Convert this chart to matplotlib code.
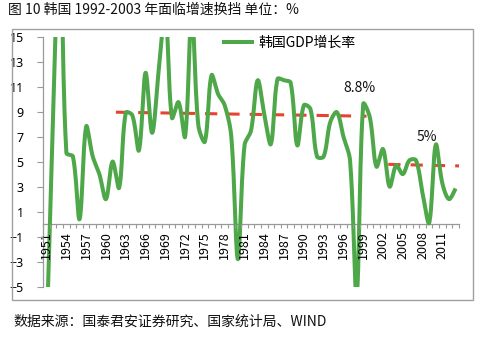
import matplotlib
matplotlib.use("Agg")
import matplotlib.pyplot as plt
import numpy as np
from matplotlib.patches import Rectangle

plt.rcParams['font.family'] = ['Noto Sans CJK SC', 'DejaVu Sans']

# 韩国 GDP 增长率 (%), 读自原图
years = list(range(1951, 2014))
gdp = [-9, 9, 23, 5.7, 5.4, 0.4, 7.8, 5.4, 4.0, 2.0,
       5.0, 2.9, 8.9, 8.7, 5.9, 12.1, 7.3, 12.3, 17, 8.5,
       9.75, 7.0, 17, 7.9, 6.6, 11.9, 10.4, 9.5, 7.0, -2.8,
       6.3, 7.5, 11.5, 8.8, 6.4, 11.6, 11.5, 11.3, 6.3, 9.5,
       9.2, 5.4, 5.4, 8.15, 8.95, 7.0, 5.1, -5.7, 9.6, 8.55,
       4.6, 6.0, 3.0, 4.7, 4.0, 5.1, 5.1, 2.45, 0.1, 6.35,
       3.25, 2.0, 2.85]

# 两段平均增速 (红色虚线)
trend1_x = [1961.5, 1999.5]
trend1_y = [8.95, 8.63]
trend2_x = [2002.8, 2013.9]
trend2_y = [4.78, 4.65]

labels = ['8.8%', '5%']
label_x = [1998.5, 2008.7]
label_y = [10.9, 7.0]


def smooth(xs, ys, n=24, yscale=1.9):
    # Excel 风格的平滑线 (按弦长分配切线的 Bezier)
    p = np.column_stack([xs, np.asarray(ys) * yscale]).astype(float)
    m = len(p)
    tang = np.zeros_like(p)
    for i in range(m):
        a = p[max(i - 1, 0)]
        b = p[min(i + 1, m - 1)]
        tang[i] = b - a
    d = np.linalg.norm(np.diff(p, axis=0), axis=1)
    out = []
    t = np.linspace(0, 1, n)[:, None]
    for i in range(m - 1):
        dp = d[i - 1] if i > 0 else d[i]
        dn = d[i + 1] if i + 1 < m - 1 else d[i]
        c1 = p[i] + tang[i] * d[i] / (dp + d[i]) / 3
        c2 = p[i + 1] - tang[i + 1] * d[i] / (d[i] + dn) / 3
        seg = ((1 - t) ** 3) * p[i] + 3 * ((1 - t) ** 2) * t * c1 + 3 * (1 - t) * t ** 2 * c2 + t ** 3 * p[i + 1]
        out.append(seg if i == 0 else seg[1:])
    out = np.vstack(out)
    return out[:, 0], out[:, 1] / yscale


fig = plt.figure(figsize=(4.81, 3.46), dpi=100)
ax = fig.add_axes([0.090, 0.1714, 0.864, 0.7231])

green = '#4EA84A'
red = '#E8432E'

sx, sy = smooth(years, gdp)
ax.plot(sx, sy, color=green, lw=2.9, label='韩国GDP增长率', solid_capstyle='butt', zorder=2)
ax.plot(trend1_x, trend1_y, color=red, lw=2.2, linestyle=(0, (4, 3.3)), zorder=1.5)
ax.plot(trend2_x, trend2_y, color=red, lw=2.2, linestyle=(0, (4, 3.3)), zorder=1.5)

for s, x, y in zip(labels, label_x, label_y):
    ax.text(x, y, s, ha='center', va='center', fontsize=10, color='#111111')

ax.set_xlim(1950.5, 2013.5)
ax.set_ylim(-5, 15)

ax.set_yticks(range(-5, 16, 2))
ax.tick_params(axis='y', length=4, width=0.8, color='#999999', pad=10, labelsize=9)

ax.set_xticks(years[::3])
ax.set_xticklabels([str(y) for y in years[::3]])
ax.set_xticks(np.arange(1950.5, 2014, 1), minor=True)
ax.tick_params(axis='x', which='major', length=0, pad=5, labelsize=9, labelrotation=90)
ax.tick_params(axis='x', which='minor', length=3, width=0.8, color='#999999')
for lab in ax.get_xticklabels() + ax.get_yticklabels():
    lab.set_family(['Noto Sans', 'DejaVu Sans'])
ax.xaxis.set_zorder(3)
ax.yaxis.set_zorder(3)

ax.spines['bottom'].set_position(('data', 0))
for side in ['top', 'right']:
    ax.spines[side].set_visible(False)
for side in ['left', 'bottom']:
    ax.spines[side].set_color('#999999')
    ax.spines[side].set_linewidth(0.9)
    ax.spines[side].set_zorder(1)

leg = ax.legend(loc='center left', bbox_to_anchor=(0.4615, 0.8766), bbox_transform=fig.transFigure,
                frameon=False, fontsize=10, handlelength=2.3, handletextpad=0.35,
                borderpad=0, borderaxespad=0)

fig.patches.append(Rectangle((12 / 481, 46 / 346), 461 / 481, 271 / 346, transform=fig.transFigure,
                             fill=False, edgecolor='#A0A0A0', lw=1.0))

fig.text(8 / 481, 1 - 10 / 346, '图 10 韩国 1992-2003 年面临增速换挡 单位：%',
         fontsize=10, va='center', ha='left', color='#111111')
fig.text(13 / 481, 1 - 322 / 346, '数据来源：国泰君安证券研究、国家统计局、WIND',
         fontsize=10, va='center', ha='left', color='#111111')

fig.savefig('out.png', dpi=100)
